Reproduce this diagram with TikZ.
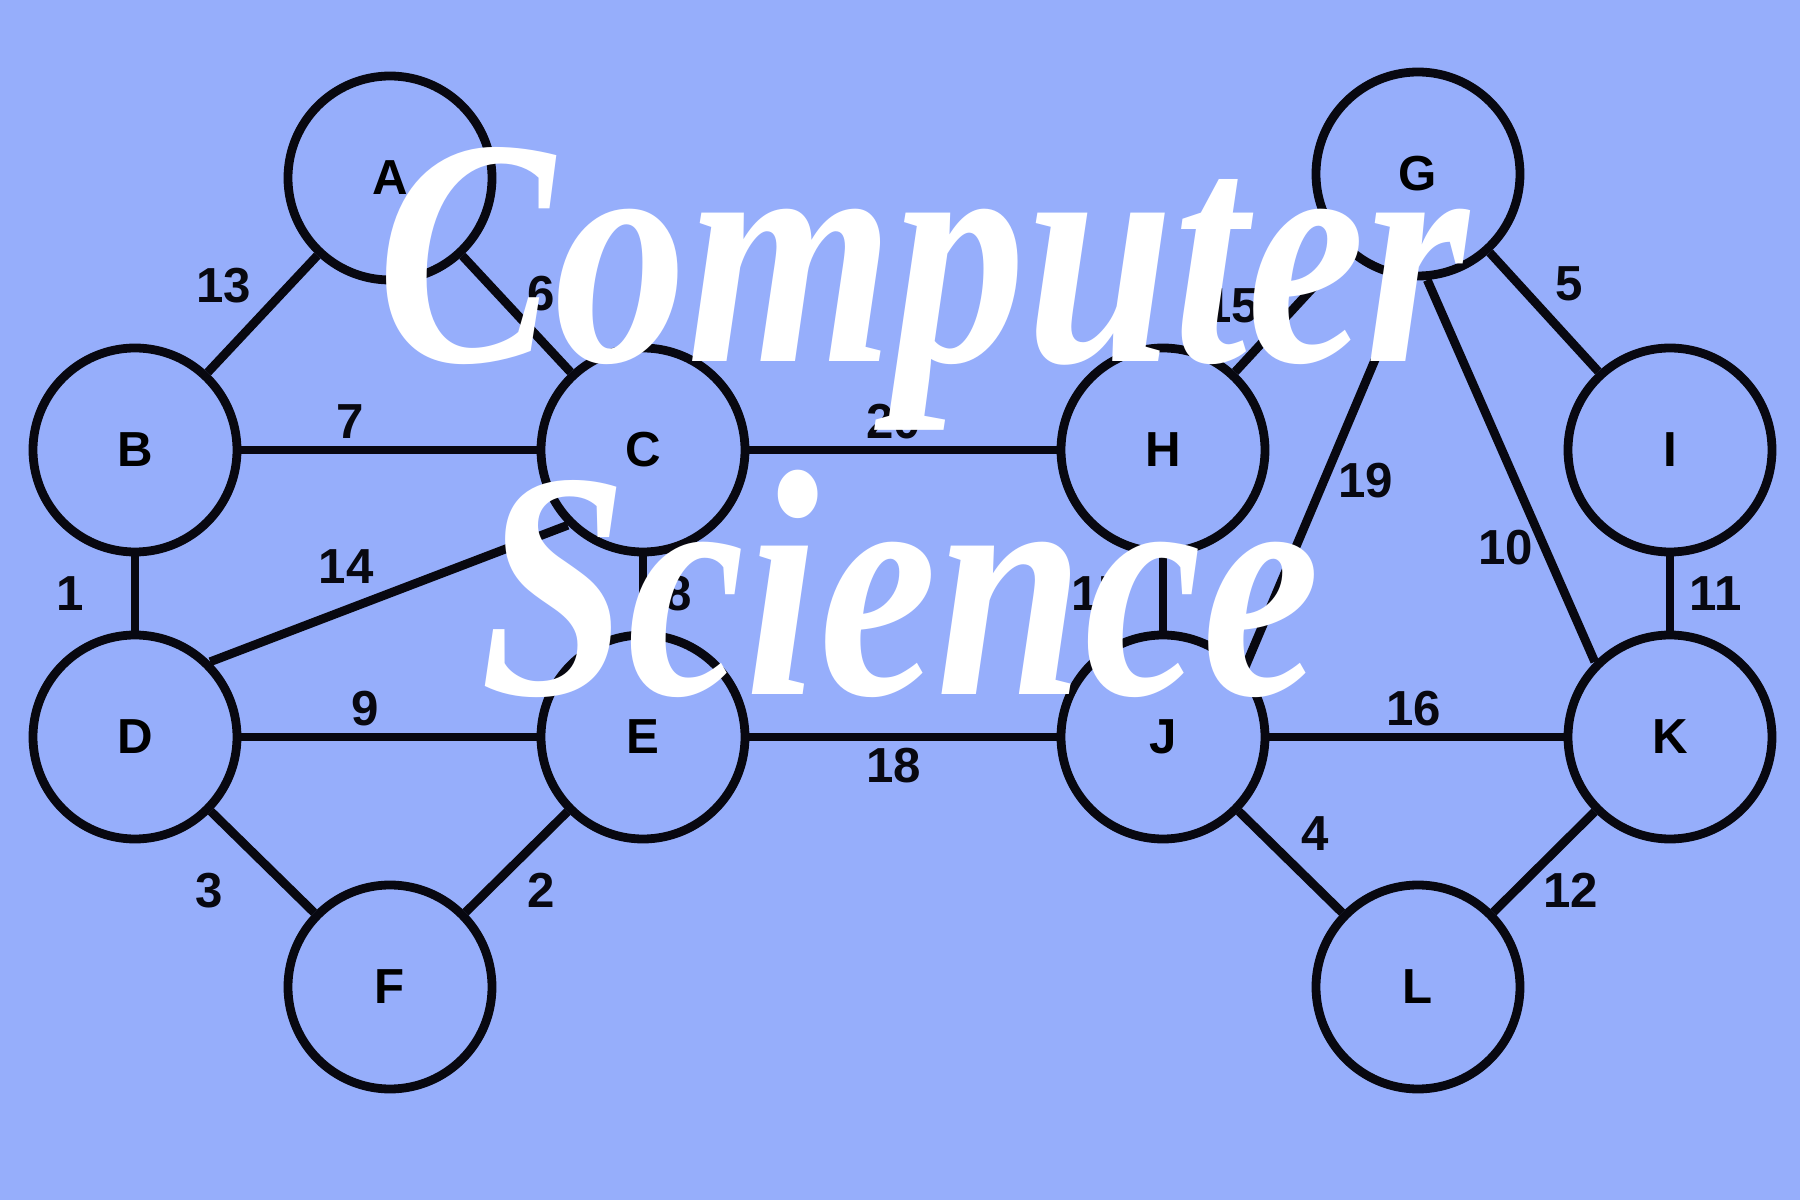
\documentclass[tikz,border=0pt]{standalone}
\usepackage{fontspec}
\setsansfont{Liberation Sans}
\newfontfamily\titlefont[FakeStretch=0.82]{Liberation Serif}
\usetikzlibrary{positioning}
\definecolor{mybg}{RGB}{150,174,251}
\definecolor{mydark}{RGB}{8,8,16}
\tikzset{
  vertex/.style={circle, draw=mydark, minimum size=2.04cm, inner sep=0pt,
    font=\fontsize{14}{16}\selectfont\sffamily\bfseries, line width=2.5pt},
  edge/.style={line width=2.5pt, color=mydark},
  weight/.style={font=\fontsize{14}{16}\selectfont\sffamily\bfseries,
    text=mydark, inner sep=2pt},
  bigtitle/.style={text=white, anchor=base,
    font=\titlefont\bfseries\itshape\fontsize{92}{96}\selectfont}
}
\begin{document}
\begin{tikzpicture}
  \useasboundingbox (0,0) rectangle (18,12);
  \fill[mybg] (0,0) rectangle (18,12);

  % left half
  \node[vertex] (a) at (3.9,10.22) {A};
  \node[vertex] (b) at (1.35,7.5)  {B};
  \node[vertex] (c) at (6.43,7.5)  {C};
  \node[vertex] (d) at (1.35,4.63) {D};
  \node[vertex] (e) at (6.43,4.63) {E};
  \node[vertex] (f) at (3.9,2.13)  {F};
  % right half
  \node[vertex] (g) at (14.18,10.26) {G};
  \node[vertex] (h) at (11.63,7.5)   {H};
  \node[vertex] (i) at (16.7,7.5)    {I};
  \node[vertex] (j) at (11.63,4.63)  {J};
  \node[vertex] (k) at (16.7,4.63)   {K};
  \node[vertex] (l) at (14.18,2.13)  {L};

  \draw[edge] (a) -- node[weight, above left] {13} (b);
  \draw[edge] (a) -- node[weight, above right, yshift=-0.08cm] {6} (c);
  \draw[edge] (b) -- node[weight, above, pos=0.37] {7} (c);
  \draw[edge] (b) -- node[weight, left=0.4cm] {1} (d);
  \draw[edge] (c.225) -- node[weight, above=0.15cm, pos=0.62] {14} (d.45);
  \draw[edge] (c) -- node[weight, right=0.1cm] {8} (e);
  \draw[edge] (d) -- node[weight, above, pos=0.42] {9} (e);
  \draw[edge] (d) -- node[weight, below left, xshift=-0.28cm] {3} (f);
  \draw[edge] (e) -- node[weight, below right] {2} (f);
  \draw[edge] (c) -- node[weight, above, pos=0.47] {20} (h);
  \draw[edge] (e) -- node[weight, below, pos=0.47] {18} (j);
  \draw[edge] (g) -- node[weight, above left, xshift=-0.2cm, yshift=-0.22cm] {15} (h);
  \draw[edge] (g) -- node[weight, above right] {5} (i);
  \draw[edge] (g.-95) -- node[weight, right, yshift=-0.06cm] {19} (j.40);
  \draw[edge] (g.-85) -- node[weight, left, pos=0.7] {10} (k.135);
  \draw[edge] (h) -- node[weight, left=0.25cm] {17} (j);
  \draw[edge] (i) -- node[weight, right=0.08cm] {11} (k);
  \draw[edge] (j) -- node[weight, above, pos=0.49] {16} (k);
  \draw[edge] (j) -- node[weight, above right] {4} (l);
  \draw[edge] (k) -- node[weight, below right, xshift=-0.12cm] {12} (l);

  % overlaid title
  \node[bigtitle] (line1) at (9.23,8.38) {Computer};
  \node[bigtitle] (line2) at (9.0,5.05) {Science};
\end{tikzpicture}
\end{document}
